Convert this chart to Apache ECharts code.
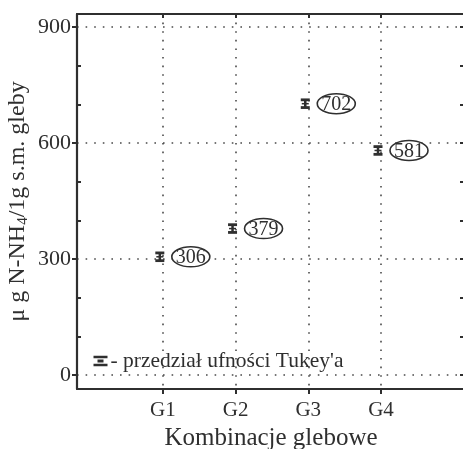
<!DOCTYPE html>
<html>
<head>
<meta charset="utf-8">
<script src="https://cdn.jsdelivr.net/npm/echarts@6/dist/echarts.min.js"></script>
<style>
  html, body { margin: 0; padding: 0; background: #fff; }
  #chart { width: 463px; height: 449px; }
</style>
</head>
<body>
<div id="chart"></div>
<script>
// Soil combinations and mean N-NH4 content with Tukey interval half-widths
const categories = ['G1', 'G2', 'G3', 'G4'];
const means = [306, 379, 702, 581];
const tukeyHalf = [10, 10, 10, 10];
const yTicks = [0, 300, 600, 900];
const yMinorTicks = [100, 200, 400, 500, 700, 800];
const yAllTicks = [0, 100, 200, 300, 400, 500, 600, 700, 800, 900];
const xPositions = [1, 2, 3, 4];

const ink = '#2f2f2f';
const serif = '"Liberation Serif", "DejaVu Serif", serif';
const dotted = { color: '#4a4a4a', width: 1.6, type: [1.6, 7] };
const frame = { show: true, onZero: false, lineStyle: { color: ink, width: 2.2 } };

const chart = echarts.init(document.getElementById('chart'), null, { renderer: 'canvas' });

const points = categories.map((c, i) => [xPositions[i], means[i], tukeyHalf[i]]);

const xRange = { min: -0.18, max: 5.155 };
const yRange = { min: -36, max: 934 };

chart.setOption({
  animation: false,
  backgroundColor: '#fff',
  grid: { left: 77, top: 14, right: -2, bottom: 60, containLabel: false, outerBoundsMode: 'none' },
  xAxis: [
    {
      type: 'value', position: 'bottom', ...xRange,
      axisLine: frame,
      axisTick: { show: true, inside: false, length: 5, customValues: xPositions, lineStyle: { color: ink, width: 2 } },
      axisLabel: {
        customValues: xPositions, color: ink, fontFamily: serif, fontSize: 21, margin: 11,
        formatter: v => categories[Math.round(v) - 1] || ''
      },
      splitLine: { show: true, lineStyle: dotted },
      name: 'Kombinacje glebowe', nameLocation: 'middle', nameGap: 37, nameMoveOverlap: false,
      nameTextStyle: { color: ink, fontFamily: serif, fontSize: 25 }
    },
    {
      type: 'value', position: 'top', ...xRange,
      axisLine: frame,
      axisTick: { show: true, inside: true, length: 4, customValues: xPositions, lineStyle: { color: ink, width: 2 } },
      axisLabel: { show: false },
      splitLine: { show: false }
    }
  ],
  yAxis: [
    {
      type: 'value', position: 'left', ...yRange,
      axisLine: frame,
      axisTick: { show: true, inside: false, length: 5, customValues: yTicks, lineStyle: { color: ink, width: 2 } },
      axisLabel: { customValues: yTicks, color: ink, fontFamily: serif, fontSize: 22, margin: 6 },
      splitLine: { show: true, lineStyle: dotted },
      name: '{t|μ g N-NH}{s|4}{t|/1g s.m. gleby}', nameLocation: 'middle', nameGap: 46, nameRotate: 90,
      nameMoveOverlap: false,
      nameTextStyle: {
        color: ink, fontFamily: serif,
        rich: {
          t: { fontSize: 24, fontFamily: serif, color: ink, lineHeight: 26 },
          s: { fontSize: 15, fontFamily: serif, color: ink, lineHeight: 26, verticalAlign: 'bottom', padding: [10, 0, 0, 0] }
        }
      }
    },
    {
      type: 'value', position: 'left', ...yRange,
      axisLine: { show: false, onZero: false },
      axisTick: { show: true, inside: true, length: 4, customValues: yMinorTicks, lineStyle: { color: ink, width: 2 } },
      axisLabel: { show: false },
      splitLine: { show: false }
    },
    {
      type: 'value', position: 'right', ...yRange,
      axisLine: frame,
      axisTick: { show: true, inside: true, length: 5, customValues: yAllTicks, lineStyle: { color: ink, width: 2 } },
      axisLabel: { show: false },
      splitLine: { show: false }
    }
  ],
  series: [
    {
      type: 'custom',
      xAxisIndex: 0, yAxisIndex: 0,
      data: points,
      z: 10,
      renderItem: function (params, api) {
        const x = api.value(0), v = api.value(1), e = api.value(2);
        const mid = api.coord([x, v]);
        const hi = api.coord([x, v + e]);
        const lo = api.coord([x, v - e]);
        const cx = mid[0] - 3;
        const half = 4.5;
        const lx = cx + 31;
        return {
          type: 'group',
          children: [
            { type: 'line', shape: { x1: cx, y1: hi[1], x2: cx, y2: lo[1] }, style: { stroke: ink, lineWidth: 2.5 } },
            { type: 'line', shape: { x1: cx - half, y1: hi[1], x2: cx + half, y2: hi[1] }, style: { stroke: ink, lineWidth: 2.8 } },
            { type: 'line', shape: { x1: cx - half, y1: lo[1], x2: cx + half, y2: lo[1] }, style: { stroke: ink, lineWidth: 2.8 } },
            { type: 'line', shape: { x1: cx - half + 1, y1: mid[1], x2: cx + half - 1, y2: mid[1] }, style: { stroke: ink, lineWidth: 1.5 } },
            { type: 'ellipse', shape: { cx: lx, cy: mid[1], rx: 19, ry: 10 }, style: { fill: '#fff', stroke: ink, lineWidth: 1.6 } },
            {
              type: 'text',
              style: {
                x: lx, y: mid[1] + 1, text: String(v), align: 'center', verticalAlign: 'middle',
                fill: ink, font: '20px ' + serif
              }
            }
          ]
        };
      }
    }
  ],
  graphic: [
    {
      type: 'group', left: 91, top: 350,
      children: [
        { type: 'line', shape: { x1: 0, y1: 0, x2: 14, y2: 0 }, style: { stroke: ink, lineWidth: 2.5 } },
        { type: 'line', shape: { x1: 0, y1: 8, x2: 14, y2: 8 }, style: { stroke: ink, lineWidth: 2.5 } },
        { type: 'line', shape: { x1: 4, y1: 4, x2: 10, y2: 4 }, style: { stroke: ink, lineWidth: 3 } },
        {
          type: 'text', x: 17, y: 4,
          style: { text: '- przedział ufności Tukey\'a', fill: ink, font: '21.5px ' + serif, verticalAlign: 'middle' }
        }
      ]
    }
  ]
});
</script>
</body>
</html>
